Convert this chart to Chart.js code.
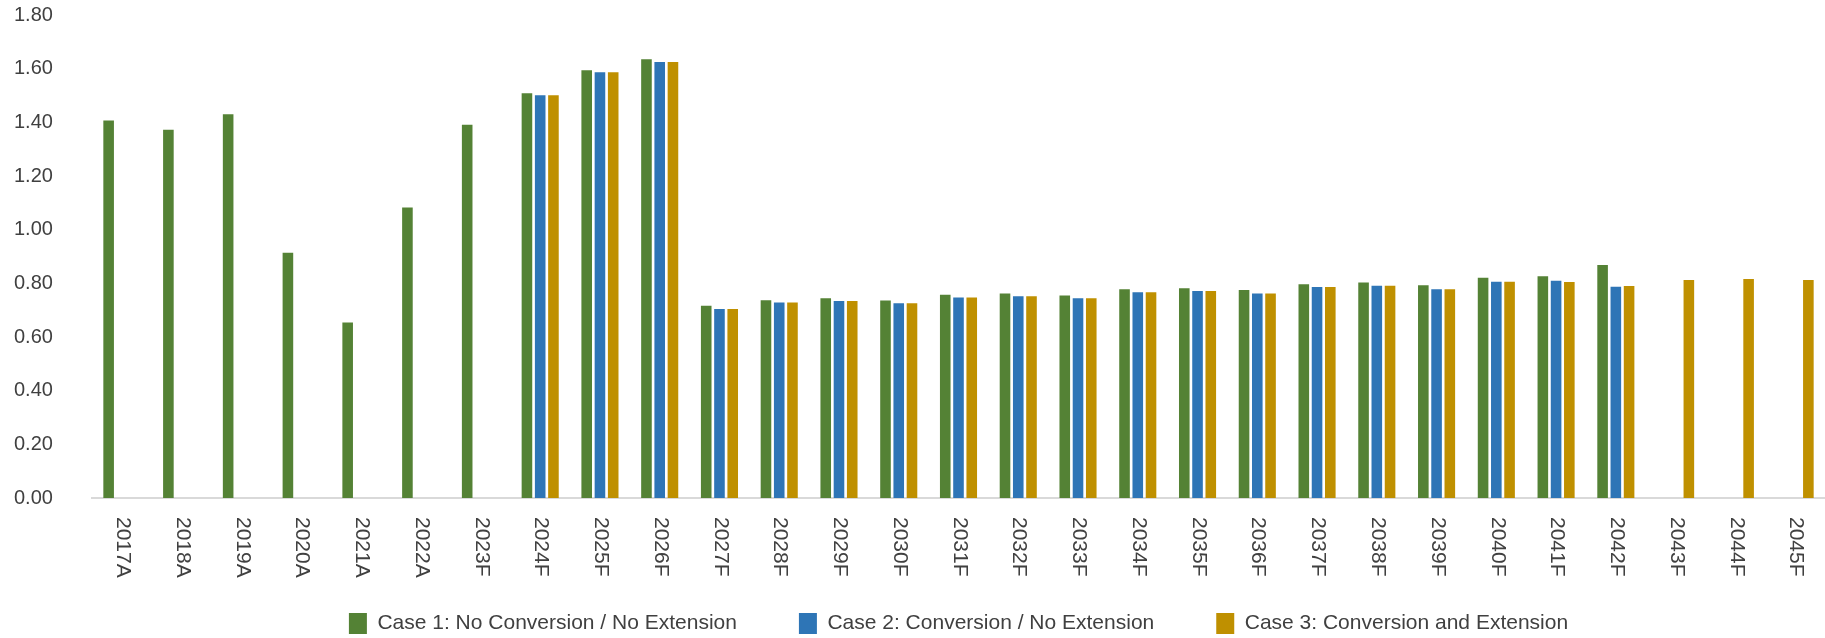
<!DOCTYPE html>
<html>
<head>
<meta charset="utf-8">
<script src="https://cdn.jsdelivr.net/npm/chart.js@4"></script>
<style>
  body { margin: 0; background: #fff; }
</style>
</head>
<body>
<canvas id="chart" width="1825" height="638"></canvas>
<script>
const years = ['2017A', '2018A', '2019A', '2020A', '2021A', '2022A', '2023F', '2024F', '2025F', '2026F',
  '2027F', '2028F', '2029F', '2030F', '2031F', '2032F', '2033F', '2034F', '2035F', '2036F',
  '2037F', '2038F', '2039F', '2040F', '2041F', '2042F', '2043F', '2044F', '2045F'];

const case1 = [1.407, 1.372, 1.430, 0.914, 0.654, 1.083, 1.391, 1.508, 1.594, 1.635,
  0.716, 0.737, 0.744, 0.736, 0.757, 0.762, 0.755, 0.778, 0.782, 0.775,
  0.797, 0.803, 0.793, 0.821, 0.826, 0.868, null, null, null];

const case2 = [null, null, null, null, null, null, null, 1.501, 1.587, 1.625,
  0.704, 0.729, 0.734, 0.726, 0.747, 0.752, 0.744, 0.767, 0.771, 0.762,
  0.786, 0.791, 0.778, 0.806, 0.810, 0.787, null, null, null];

const case3 = [null, null, null, null, null, null, null, 1.501, 1.587, 1.625,
  0.704, 0.729, 0.734, 0.726, 0.747, 0.752, 0.744, 0.767, 0.771, 0.762,
  0.786, 0.791, 0.778, 0.806, 0.805, 0.790, 0.812, 0.816, 0.812];

const seriesNames = ['Case 1: No Conversion / No Extension', 'Case 2: Conversion / No Extension', 'Case 3: Conversion and Extension'];

const FONT = '"Liberation Sans", Arial, sans-serif';
const TEXT = '#404040';

// draws the x labels rotated clockwise (top to bottom), like the original
const xLabels = {
  id: 'xLabels',
  afterDraw(chart) {
    const ctx = chart.ctx;
    const x = chart.scales.x;
    ctx.save();
    ctx.font = '21px ' + FONT;
    ctx.fillStyle = TEXT;
    ctx.textAlign = 'left';
    ctx.textBaseline = 'middle';
    years.forEach((lab, i) => {
      ctx.save();
      ctx.translate(x.getPixelForTick(i) + 1, chart.chartArea.bottom + 19);
      ctx.rotate(Math.PI / 2);
      ctx.fillText(lab, 0, 0);
      ctx.restore();
    });
    ctx.restore();
  }
};

new Chart(document.getElementById('chart'), {
  type: 'bar',
  data: {
    labels: years,
    datasets: [
      { label: seriesNames[0], data: case1, backgroundColor: '#548235' },
      { label: seriesNames[1], data: case2, backgroundColor: '#2E75B6' },
      { label: seriesNames[2], data: case3, backgroundColor: '#BF9000' }
    ]
  },
  options: {
    responsive: false,
    animation: false,
    barPercentage: 0.8,
    categoryPercentage: 0.665,
    layout: { padding: { left: 14, top: 12, right: 0, bottom: -6 } },
    plugins: {
      legend: {
        position: 'bottom',
        fullSize: false,
        labels: {
          color: TEXT,
          font: { family: FONT, size: 21 },
          boxWidth: 18,
          boxHeight: 21,
          padding: 62
        }
      },
      tooltip: { enabled: false }
    },
    scales: {
      x: {
        grid: { display: false },
        border: { color: '#d9d9d9', width: 2 },
        ticks: { display: false },
        afterFit: s => { s.height = 53; }
      },
      y: {
        min: 0,
        max: 1.8,
        grid: { display: false },
        border: { display: false },
        ticks: {
          stepSize: 0.2,
          color: TEXT,
          crossAlign: 'far',
          font: { family: FONT, size: 20 },
          callback: v => v.toFixed(2)
        },
        afterFit: s => { s.width = 78; }
      }
    }
  },
  plugins: [xLabels]
});
</script>
</body>
</html>
